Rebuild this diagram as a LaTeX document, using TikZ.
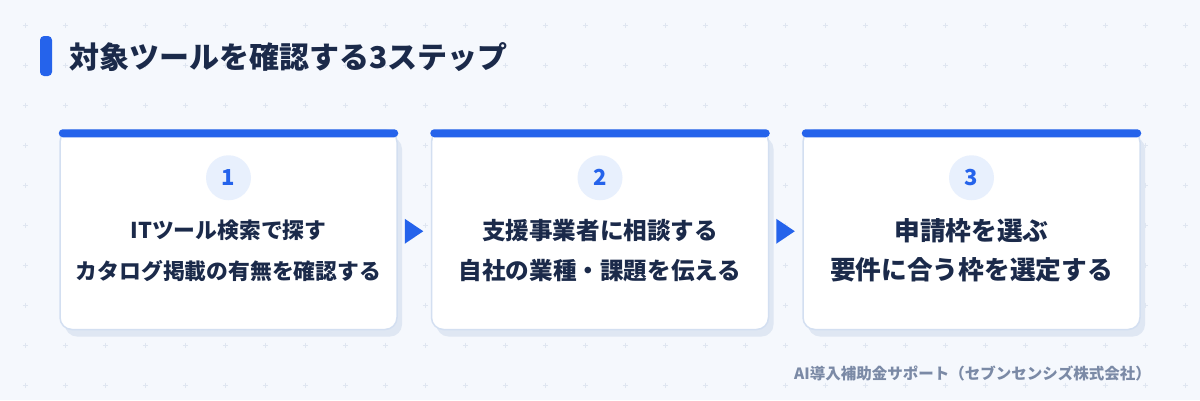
\documentclass[tikz,border=0pt]{standalone}
\usepackage{fontspec}
\setmainfont{Noto Sans CJK JP}
\usetikzlibrary{calc,shadows}
\definecolor{bgc}{HTML}{F5F8FD}
\definecolor{gridc}{HTML}{DFE6F1}
\definecolor{accent}{HTML}{2563EB}
\definecolor{navy}{HTML}{1B2A4A}
\definecolor{cardline}{HTML}{D3DFF1}
\definecolor{shadowc}{HTML}{DFE7F3}
\definecolor{circfill}{HTML}{E8F0FD}
\definecolor{footc}{HTML}{7B8AA6}
\begin{document}
\begin{tikzpicture}[x=1pt,y=-1pt,
  card/.style={draw=cardline, line width=1.5pt, fill=white, rounded corners=12pt,
    minimum width=337pt, minimum height=199.5pt, inner sep=0pt,
    drop shadow={shadow xshift=5pt, shadow yshift=-7pt, fill=shadowc, opacity=1}},
  topbar/.style={fill=accent, rounded corners=4pt},
  numcircle/.style={circle, fill=circfill, minimum size=45pt, inner sep=0pt,
    text=accent, font=\bfseries\fontsize{22}{24}\selectfont},
  stepline/.style={text=navy, inner sep=0pt},
  arrowtri/.style={fill=accent},
  plusmark/.style={draw=gridc, line width=0.8pt}
]
\useasboundingbox (0,0) rectangle (1200,400);
\fill[bgc] (0,0) rectangle (1200,400);
\foreach \i in {0,...,29}{
  \foreach \j in {0,...,9}{
    \draw[plusmark] (25+40*\i-2.5, 25+40*\j) -- ++(5,0)
                    (25+40*\i, 25+40*\j-2.5) -- ++(0,5);
  }
}
% title
\fill[accent, rounded corners=4pt] (40,36) rectangle (52,76);
\node[anchor=west, inner sep=0pt, text=navy, font=\bfseries\fontsize{30}{32}\selectfont] (title) at (69,57) {対象ツールを確認する3ステップ};

% cards
\node[card] (card1) at (228.5,229.75) {};
\node[card] (card2) at (600,229.75) {};
\node[card] (card3) at (971.5,229.75) {};

\foreach \c/\n in {card1/1,card2/2,card3/3}{
  \fill[topbar] ($(\c.north west)+(-0.5,0)$) rectangle ($(\c.north east)+(0.5,8)$);
  \node[numcircle] (num\n) at ($(\c.north)+(0,48.5)$) {\n};
}

\node[stepline, font=\bfseries\fontsize{21.8}{24}\selectfont] (t1a) at ($(card1.north)+(0,101.5)$) {ITツール検索で探す};
\node[stepline, font=\bfseries\fontsize{21.8}{24}\selectfont] (t1b) at ($(card1.north)+(0,141.5)$) {カタログ掲載の有無を確認する};
\node[stepline, font=\bfseries\fontsize{23.6}{26}\selectfont] (t2a) at ($(card2.north)+(0,101.5)$) {支援事業者に相談する};
\node[stepline, font=\bfseries\fontsize{23.6}{26}\selectfont] (t2b) at ($(card2.north)+(0,141)$) {自社の業種・課題を伝える};
\node[stepline, font=\bfseries\fontsize{25.7}{28}\selectfont] (t3a) at ($(card3.north)+(0,101)$) {申請枠を選ぶ};
\node[stepline, font=\bfseries\fontsize{25.7}{28}\selectfont] (t3b) at ($(card3.north)+(0,140.5)$) {要件に合う枠を選定する};

% arrows between cards
\coordinate (m12) at ($(card1.east)!0.5!(card2.west)+(0,1.5)$);
\coordinate (m23) at ($(card2.east)!0.5!(card3.west)+(0,1.5)$);
\foreach \m in {m12,m23}{
  \fill[arrowtri] ($(\m)+(-9.5,-12.5)$) -- ($(\m)+(9,0)$) -- ($(\m)+(-9.5,12.5)$) -- cycle;
}

% footer
\node[anchor=east, inner sep=0pt, text=footc, font=\bfseries\fontsize{15.5}{18}\selectfont] (footer) at (1151,373) {AI導入補助金サポート（セブンセンシズ株式会社）};
\end{tikzpicture}
\end{document}
